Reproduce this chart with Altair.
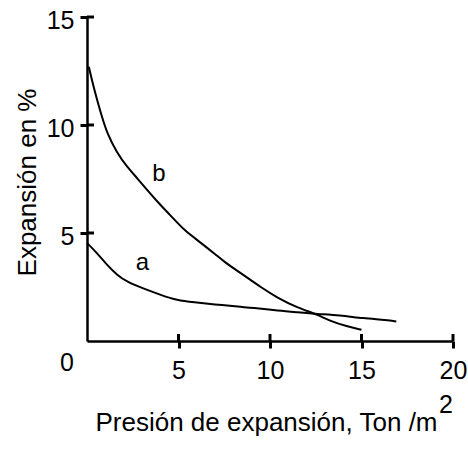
import altair as alt
import pandas as pd

# Curve b (upper)
b_x = [0.1, 0.27, 0.55, 0.82, 1.09, 1.64, 2.19, 2.73, 3.28, 4.0, 4.92, 5.3, 6.23, 7.1, 7.49, 8.2, 8.9, 9.45, 10.4, 11.48, 12.62, 13.28, 14.2, 15.0]
b_y = [12.7, 12.08, 11.16, 10.37, 9.63, 8.7, 8.06, 7.55, 7.0, 6.3, 5.5, 5.14, 4.54, 3.95, 3.68, 3.25, 2.85, 2.52, 2.0, 1.55, 1.22, 0.92, 0.68, 0.52]
# Curve a (lower)
a_x = [0.0, 0.55, 1.09, 1.64, 2.19, 3.11, 4.04, 4.92, 5.85, 6.94, 8.36, 9.0, 10.5, 11.5, 12.6, 13.8, 15.1, 16.4, 16.9]
a_y = [4.54, 4.07, 3.52, 3.06, 2.73, 2.42, 2.13, 1.88, 1.79, 1.7, 1.58, 1.54, 1.4, 1.33, 1.25, 1.19, 1.05, 0.97, 0.9]

curve_labels = ["a", "b"]
curve_label_x = [3.03, 3.93]
curve_label_y = [3.59, 7.73]

x_ticks = [5, 10, 15, 20]
y_ticks = [5, 10, 15]

x_title = "Presión de expansión, Ton /m"
x_title_sup = "2"
y_title = "Expansión en %"
origin_label = "0"

FONT = "Liberation Sans"

df = pd.concat([
    pd.DataFrame({"series": "b", "x": b_x, "y": b_y}),
    pd.DataFrame({"series": "a", "x": a_x, "y": a_y}),
])

xs = alt.Scale(domain=[0, 20], nice=False, zero=True)
ys = alt.Scale(domain=[0, 15], nice=False, zero=True)

x_axis = alt.Axis(
    values=x_ticks, ticks=True, tickSize=7, tickWidth=3, tickColor="black",
    grid=False, domainColor="black", domainWidth=2.5,
    labelFont=FONT, labelFontSize=25, labelColor="black", labelPadding=10,
    labelFlush=False,
    title=x_title, titleFont=FONT, titleFontSize=26, titleFontWeight="normal",
    titleColor="black", titleX=179, titleY=89, titleAlign="center",
    titleBaseline="alphabetic",
)
y_axis = alt.Axis(
    values=y_ticks, ticks=True, tickSize=7, tickWidth=3, tickColor="black",
    grid=False, domainColor="black", domainWidth=2.5,
    labelFont=FONT, labelFontSize=25, labelColor="black", labelPadding=6,
    labelOffset=3, labelFlush=False,
    title=y_title, titleFont=FONT, titleFontSize=26, titleFontWeight="normal",
    titleColor="black", titleAngle=270, titleX=-52, titleY=165,
    titleAlign="center", titleBaseline="alphabetic",
)

lines = alt.Chart(df).mark_line(color="black", strokeWidth=2, interpolate="basis").encode(
    x=alt.X("x:Q", scale=xs, axis=x_axis),
    y=alt.Y("y:Q", scale=ys, axis=y_axis),
    detail="series:N",
)

# inner halves of the crossing ticks
xt = alt.Chart(pd.DataFrame({"v": x_ticks, "zero": [0] * len(x_ticks)})).mark_rule(
    strokeWidth=3, color="black", yOffset=-7
).encode(x=alt.X("v:Q", scale=xs), y=alt.Y("zero:Q", scale=ys), y2="zero:Q")

yt = alt.Chart(pd.DataFrame({"v": y_ticks, "zero": [0] * len(y_ticks)})).mark_rule(
    strokeWidth=3, color="black", x2Offset=7
).encode(y=alt.Y("v:Q", scale=ys), x=alt.X("zero:Q", scale=xs), x2="zero:Q")

lab = alt.Chart(pd.DataFrame({"t": curve_labels, "x": curve_label_x, "y": curve_label_y})).mark_text(
    font=FONT, fontSize=24, color="black", baseline="middle", align="center"
).encode(x=alt.X("x:Q", scale=xs), y=alt.Y("y:Q", scale=ys), text="t:N")

origin = alt.Chart(pd.DataFrame({"t": [origin_label], "x": [0], "y": [0]})).mark_text(
    font=FONT, fontSize=25, color="black", baseline="middle", align="center", dx=-20, dy=22
).encode(x=alt.X("x:Q", scale=xs), y=alt.Y("y:Q", scale=ys), text="t:N")

sup = alt.Chart(pd.DataFrame({"t": [x_title_sup], "x": [20], "y": [0]})).mark_text(
    font=FONT, fontSize=25, color="black", baseline="alphabetic", align="center", dx=-7, dy=72
).encode(x=alt.X("x:Q", scale=xs), y=alt.Y("y:Q", scale=ys), text="t:N")

chart = alt.layer(lines, xt, yt, lab, origin, sup).properties(
    width=366, height=324,
    autosize=alt.AutoSizeParams(type="none"),
    padding={"left": 87, "top": 17, "right": 15, "bottom": 108},
    background="white",
).configure_view(stroke=None)

chart.save("out.html", embed_options={"renderer": "svg", "actions": False})
